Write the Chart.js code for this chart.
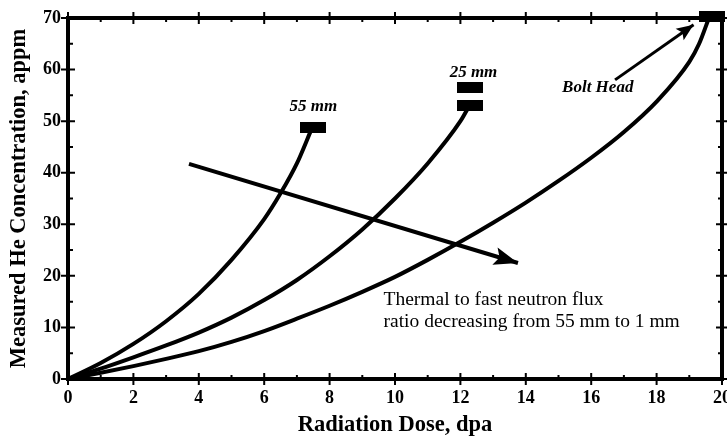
<!DOCTYPE html>
<html>
<head>
<meta charset="utf-8">
<script src="https://cdn.jsdelivr.net/npm/chart.js@4.4.0/dist/chart.umd.min.js"></script>
<style>
  html, body { margin: 0; padding: 0; background: #fff; overflow: hidden; }
</style>
</head>
<body>
<!-- a few px wider than the window: the reference crops the last x label the same way -->
<canvas id="heChart" width="740" height="436"></canvas>
<script>
// Curves: radiation dose (dpa) vs measured He (appm)
const dose55 = [0, 1, 2, 3, 4, 5, 6, 6.5, 7, 7.45];
const he55   = [0, 3.1, 6.8, 11.2, 16.5, 23.1, 31.0, 36.0, 41.8, 48.5];

const dose25 = [0, 1, 2, 3, 4, 5, 6, 7, 8, 9, 10, 11, 12, 12.3];
const he25   = [0, 2.0, 4.2, 6.5, 9.0, 11.9, 15.3, 19.2, 23.8, 29.0, 35.0, 41.8, 50.0, 53.3];

const doseBolt = [0, 1, 2, 3, 4, 5, 6, 7, 8, 9, 10, 11, 12, 13, 14, 15, 16, 17, 18, 19, 19.3, 19.6];
const heBolt   = [0, 1.2, 2.5, 3.9, 5.4, 7.2, 9.3, 11.7, 14.2, 16.9, 19.8, 23.1, 26.6, 30.3, 34.2, 38.4, 42.9, 47.9, 53.8, 61.5, 65.0, 70];

// End markers (black bars)
const markerDose = [7.48, 12.3, 12.3, 19.7];
const markerHe   = [48.7, 56.5, 53.1, 70.2];

// Arrows: [start, tip]
const trendArrowDose = [3.7, 13.76];
const trendArrowHe   = [41.7, 22.5];
const boltArrowDose  = [16.73, 19.13];
const boltArrowHe    = [58.0, 68.7];

// Text labels placed in data coordinates
const curveLabels = ['55 mm', '25 mm', 'Bolt Head'];
const curveLabelDose = [7.5, 12.4, 16.2];
const curveLabelHe   = [52.8, 59.4, 56.5];
const noteLines = ['Thermal to fast neutron flux', 'ratio decreasing from 55 mm to 1 mm'];
const noteDose = 9.65;
const noteHe = [15.3, 11.0];

const xTickStep = 2;
const yTickStep = 10;
const xMinorStep = 1;
const yMinorStep = 5;

const serif = "'Liberation Serif', 'Times New Roman', serif";

function toPoints(xs, ys) {
    return xs.map((x, i) => ({ x: x, y: ys[i] }));
}

// wide black bar used as point style
const bar = document.createElement('canvas');
bar.width = 26;
bar.height = 11;
const bctx = bar.getContext('2d');
bctx.fillStyle = '#000';
bctx.fillRect(0, 0, 26, 11);

const curveStyle = {
    borderColor: '#000',
    borderWidth: 4,
    pointRadius: 0,
    fill: false,
    cubicInterpolationMode: 'monotone'
};

// frame with ticks on all four sides
const framePlugin = {
    id: 'frame',
    beforeDatasetsDraw(chart) {
        const { ctx, chartArea: a, scales: { x, y } } = chart;
        ctx.save();
        ctx.strokeStyle = '#000';
        ctx.lineWidth = 4;
        ctx.strokeRect(a.left, a.top, a.right - a.left, a.bottom - a.top);
        ctx.lineWidth = 2;
        ctx.beginPath();
        for (let v = x.min; v <= x.max + 1e-9; v += xMinorStep) {
            const px = x.getPixelForValue(v);
            const major = Math.abs(v / xTickStep - Math.round(v / xTickStep)) < 1e-9;
            if (major) {
                ctx.moveTo(px, a.bottom - 6); ctx.lineTo(px, a.bottom + 6);
                ctx.moveTo(px, a.top - 6); ctx.lineTo(px, a.top + 6);
            } else {
                ctx.moveTo(px, a.bottom - 4); ctx.lineTo(px, a.bottom + 2);
                ctx.moveTo(px, a.top - 2); ctx.lineTo(px, a.top + 4);
            }
        }
        for (let v = y.min; v <= y.max + 1e-9; v += yMinorStep) {
            const py = y.getPixelForValue(v);
            const major = Math.abs(v / yTickStep - Math.round(v / yTickStep)) < 1e-9;
            if (major) {
                ctx.moveTo(a.left - 7, py); ctx.lineTo(a.left + 7, py);
                ctx.moveTo(a.right - 6, py); ctx.lineTo(a.right + 6, py);
            } else {
                ctx.moveTo(a.left - 2, py); ctx.lineTo(a.left + 5, py);
                ctx.moveTo(a.right - 4, py); ctx.lineTo(a.right + 2, py);
            }
        }
        ctx.stroke();
        ctx.restore();
    }
};

// arrowheads on datasets flagged with arrowHead
const arrowPlugin = {
    id: 'arrows',
    afterDatasetsDraw(chart) {
        const { ctx } = chart;
        chart.data.datasets.forEach((ds, i) => {
            if (!ds.arrowHead) return;
            const pts = chart.getDatasetMeta(i).data;
            const p0 = pts[pts.length - 2];
            const p1 = pts[pts.length - 1];
            const ang = Math.atan2(p1.y - p0.y, p1.x - p0.x);
            const len = ds.arrowHead.length;
            const half = ds.arrowHead.half;
            ctx.save();
            ctx.fillStyle = '#000';
            ctx.translate(p1.x, p1.y);
            ctx.rotate(ang);
            ctx.beginPath();
            ctx.moveTo(0, 0);
            ctx.lineTo(-len, -half);
            ctx.lineTo(-len * 0.8, 0);
            ctx.lineTo(-len, half);
            ctx.closePath();
            ctx.fill();
            ctx.restore();
        });
    }
};

// text annotations
const labelPlugin = {
    id: 'labels',
    afterDatasetsDraw(chart) {
        const { ctx, scales: { x, y } } = chart;
        ctx.save();
        ctx.fillStyle = '#000';
        ctx.textBaseline = 'middle';
        ctx.textAlign = 'center';
        ctx.font = 'italic bold 17px ' + serif;
        curveLabels.forEach((t, i) => {
            ctx.fillText(t, x.getPixelForValue(curveLabelDose[i]), y.getPixelForValue(curveLabelHe[i]));
        });
        ctx.textAlign = 'left';
        ctx.font = '19.5px ' + serif;
        noteLines.forEach((t, i) => {
            ctx.fillText(t, x.getPixelForValue(noteDose), y.getPixelForValue(noteHe[i]));
        });
        ctx.restore();
    }
};

const ctx = document.getElementById('heChart');
new Chart(ctx, {
    type: 'line',
    data: {
        datasets: [
            Object.assign({ label: '55 mm', data: toPoints(dose55, he55) }, curveStyle),
            Object.assign({ label: '25 mm', data: toPoints(dose25, he25) }, curveStyle),
            Object.assign({ label: 'Bolt Head', data: toPoints(doseBolt, heBolt) }, curveStyle),
            {
                label: 'markers',
                data: toPoints(markerDose, markerHe),
                showLine: false,
                pointStyle: bar,
                pointRadius: 13,
                clip: false
            },
            {
                label: 'trend',
                data: toPoints(trendArrowDose, trendArrowHe),
                borderColor: '#000',
                borderWidth: 4,
                pointRadius: 0,
                arrowHead: { length: 24, half: 9 }
            },
            {
                label: 'bolt arrow',
                data: toPoints(boltArrowDose, boltArrowHe),
                borderColor: '#000',
                borderWidth: 3,
                pointRadius: 0,
                arrowHead: { length: 17, half: 7 }
            }
        ]
    },
    options: {
        responsive: false,
        animation: false,
        events: [],
        layout: { padding: { top: 18, right: 6, left: 0, bottom: 0 } },
        plugins: {
            legend: { display: false },
            tooltip: { enabled: false }
        },
        scales: {
            x: {
                type: 'linear',
                min: 0,
                max: 20,
                grid: { display: false, drawTicks: false },
                border: { display: false },
                ticks: {
                    stepSize: xTickStep,
                    padding: 9,
                    maxRotation: 0,
                    color: '#000',
                    font: { family: serif, size: 18, weight: 'bold' }
                },
                title: {
                    display: true,
                    text: 'Radiation Dose, dpa',
                    color: '#000',
                    font: { family: serif, size: 22.5, weight: 'bold', lineHeight: 1 },
                    padding: { top: 0, bottom: 0 }
                },
                afterFit(scale) {
                    scale.height = 57;
                }
            },
            y: {
                type: 'linear',
                min: 0,
                max: 70,
                grid: { display: false, drawTicks: false },
                border: { display: false },
                ticks: {
                    stepSize: yTickStep,
                    padding: 7,
                    color: '#000',
                    font: { family: serif, size: 18, weight: 'bold' }
                },
                title: {
                    display: true,
                    text: 'Measured He Concentration, appm',
                    color: '#000',
                    font: { family: serif, size: 22.5, weight: 'bold', lineHeight: 1 },
                    padding: { top: 8, bottom: 0 }
                },
                afterFit(scale) {
                    scale.width = 68;
                }
            }
        }
    },
    plugins: [framePlugin, arrowPlugin, labelPlugin]
});
</script>
</body>
</html>
